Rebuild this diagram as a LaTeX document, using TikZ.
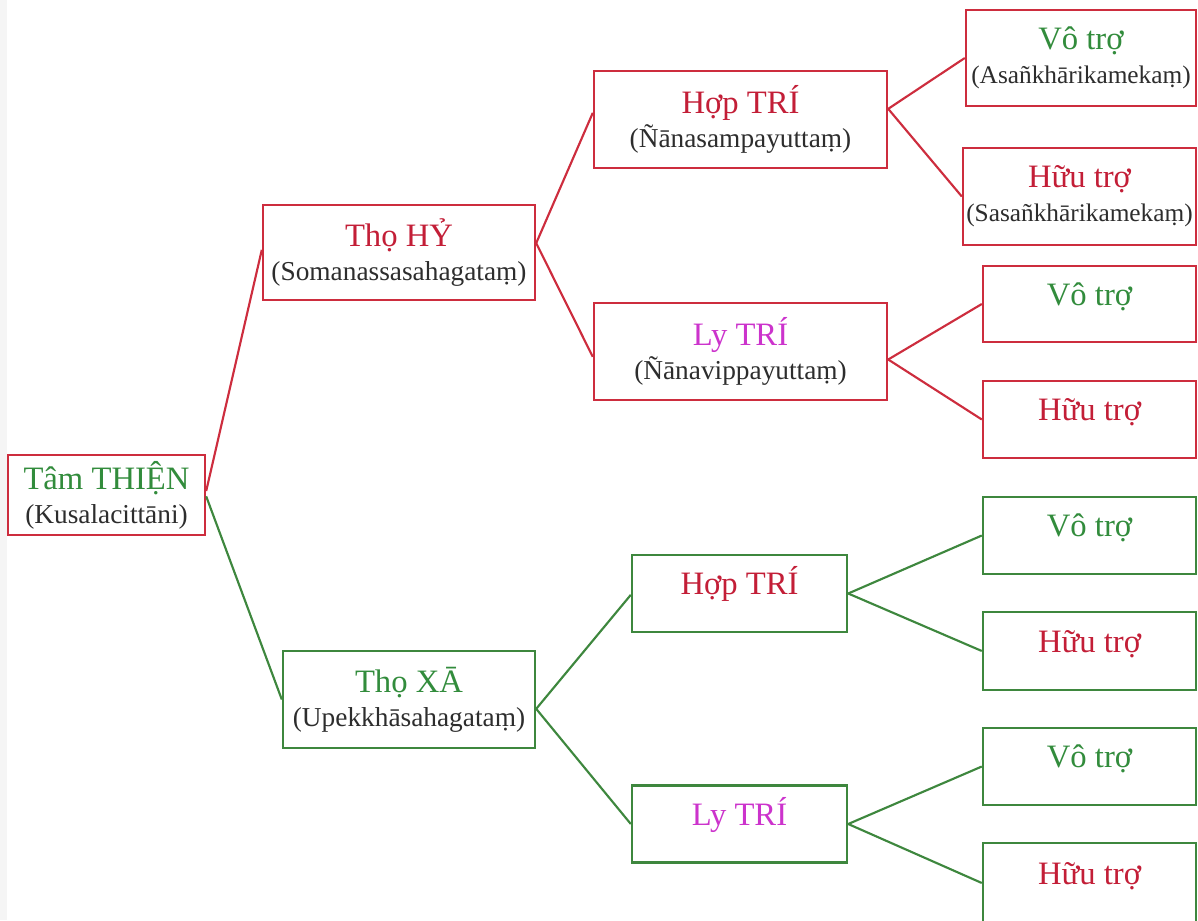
\documentclass[tikz,border=0pt]{standalone}
\usepackage{fontspec}
\setmainfont{Liberation Serif}
\definecolor{bred}{RGB}{205,45,62}
\definecolor{bgreen}{RGB}{62,135,62}
\definecolor{tgreen}{RGB}{50,140,60}
\definecolor{tred}{RGB}{195,30,55}
\definecolor{tmag}{RGB}{204,51,204}
\definecolor{tdark}{RGB}{45,45,45}
\tikzset{
  box/.style={draw, line width=1.8pt, fill=white, inner sep=0pt, align=center,
    font=\fontsize{20.5}{25.5}\selectfont, text=tdark},
  rbox/.style={box, draw=bred},
  gbox/.style={box, draw=bgreen},
  one/.style={text height=14pt, text depth=12pt},
  rlink/.style={draw=bred, line width=1.6pt},
  glink/.style={draw=bgreen, line width=1.6pt},
}
\newcommand{\ttl}[2]{{\color{#1}\fontsize{24.5}{25.5}\selectfont #2}}
\newcommand{\rsub}[1]{{\fontsize{19}{25}\selectfont #1}}
\begin{document}
\begin{tikzpicture}[x=0.75pt,y=-0.75pt]
\useasboundingbox (0,0) rectangle (1198,920);
\fill[black!4] (0,0) rectangle (7,920);
% level 0
\node[rbox, minimum width=147.75pt, minimum height=60pt] (thien) at (106.5,495)
  {\ttl{tgreen}{Tâm THIỆN}\\(Kusalacittāni)};
% level 1
\node[rbox, minimum width=204pt, minimum height=71.25pt] (hy) at (399,252.5)
  {\ttl{tred}{Thọ HỶ}\\(Somanassasahagataṃ)};
\node[gbox, minimum width=189pt, minimum height=72.75pt] (xa) at (409,699.5)
  {\ttl{tgreen}{Thọ XĀ}\\(Upekkhāsahagataṃ)};
% level 2
\node[rbox, minimum width=219.75pt, minimum height=72.75pt] (hop1) at (740.5,119.5)
  {\ttl{tred}{Hợp TRÍ}\\(Ñānasampayuttaṃ)};
\node[rbox, minimum width=219.75pt, minimum height=72.75pt] (ly1) at (740.5,351.5)
  {\ttl{tmag}{Ly TRÍ}\\(Ñānavippayuttaṃ)};
\node[gbox, one, minimum width=161.25pt, minimum height=57.75pt] (hop2) at (739.5,593.5)
  {\ttl{tred}{Hợp TRÍ}};
\node[gbox, one, minimum width=161.25pt, minimum height=57.75pt] (ly2) at (739.5,824)
  {\ttl{tmag}{Ly TRÍ}};
% level 3
\node[rbox, minimum width=172.5pt, minimum height=72pt] (r1) at (1081,58)
  {\ttl{tgreen}{Vô trợ}\\\rsub{(Asañkhārikamekaṃ)}};
\node[rbox, minimum width=174.75pt, minimum height=72.75pt] (r2) at (1079.5,196.5)
  {\ttl{tred}{Hữu trợ}\\\rsub{(Sasañkhārikamekaṃ)}};
\node[rbox, one, minimum width=159.75pt, minimum height=57pt] (r3) at (1089.5,304)
  {\ttl{tgreen}{Vô trợ}};
\node[rbox, one, minimum width=159.75pt, minimum height=57.75pt] (r4) at (1089.5,419.5)
  {\ttl{tred}{Hữu trợ}};
\node[gbox, one, minimum width=159.75pt, minimum height=57.75pt] (r5) at (1089.5,535.5)
  {\ttl{tgreen}{Vô trợ}};
\node[gbox, one, minimum width=159.75pt, minimum height=58.5pt] (r6) at (1089.5,651)
  {\ttl{tred}{Hữu trợ}};
\node[gbox, one, minimum width=159.75pt, minimum height=57.75pt] (r7) at (1089.5,766.5)
  {\ttl{tgreen}{Vô trợ}};
\node[gbox, one, minimum width=159.75pt, minimum height=60pt] (r8) at (1089.5,883)
  {\ttl{tred}{Hữu trợ}};
% connectors
\draw[rlink] ([yshift=3pt]thien.east) -- ([yshift=2pt]hy.west);
\draw[glink] ([yshift=-1pt]thien.east) -- (xa.west);
\draw[rlink] ([yshift=7pt]hy.east) -- ([yshift=5pt]hop1.west);
\draw[rlink] ([yshift=7pt]hy.east) -- ([yshift=-4pt]ly1.west);
\draw[glink] ([yshift=-7pt]xa.east) -- ([yshift=-1pt]hop2.west);
\draw[glink] ([yshift=-7pt]xa.east) -- (ly2.west);
\draw[rlink] ([yshift=8pt]hop1.east) -- (r1.west);
\draw[rlink] ([yshift=8pt]hop1.east) -- (r2.west);
\draw[rlink] ([yshift=-6pt]ly1.east) -- (r3.west);
\draw[rlink] ([yshift=-6pt]ly1.east) -- (r4.west);
\draw[glink] (hop2.east) -- (r5.west);
\draw[glink] (hop2.east) -- (r6.west);
\draw[glink] (ly2.east) -- (r7.west);
\draw[glink] (ly2.east) -- (r8.west);
\end{tikzpicture}
\end{document}
